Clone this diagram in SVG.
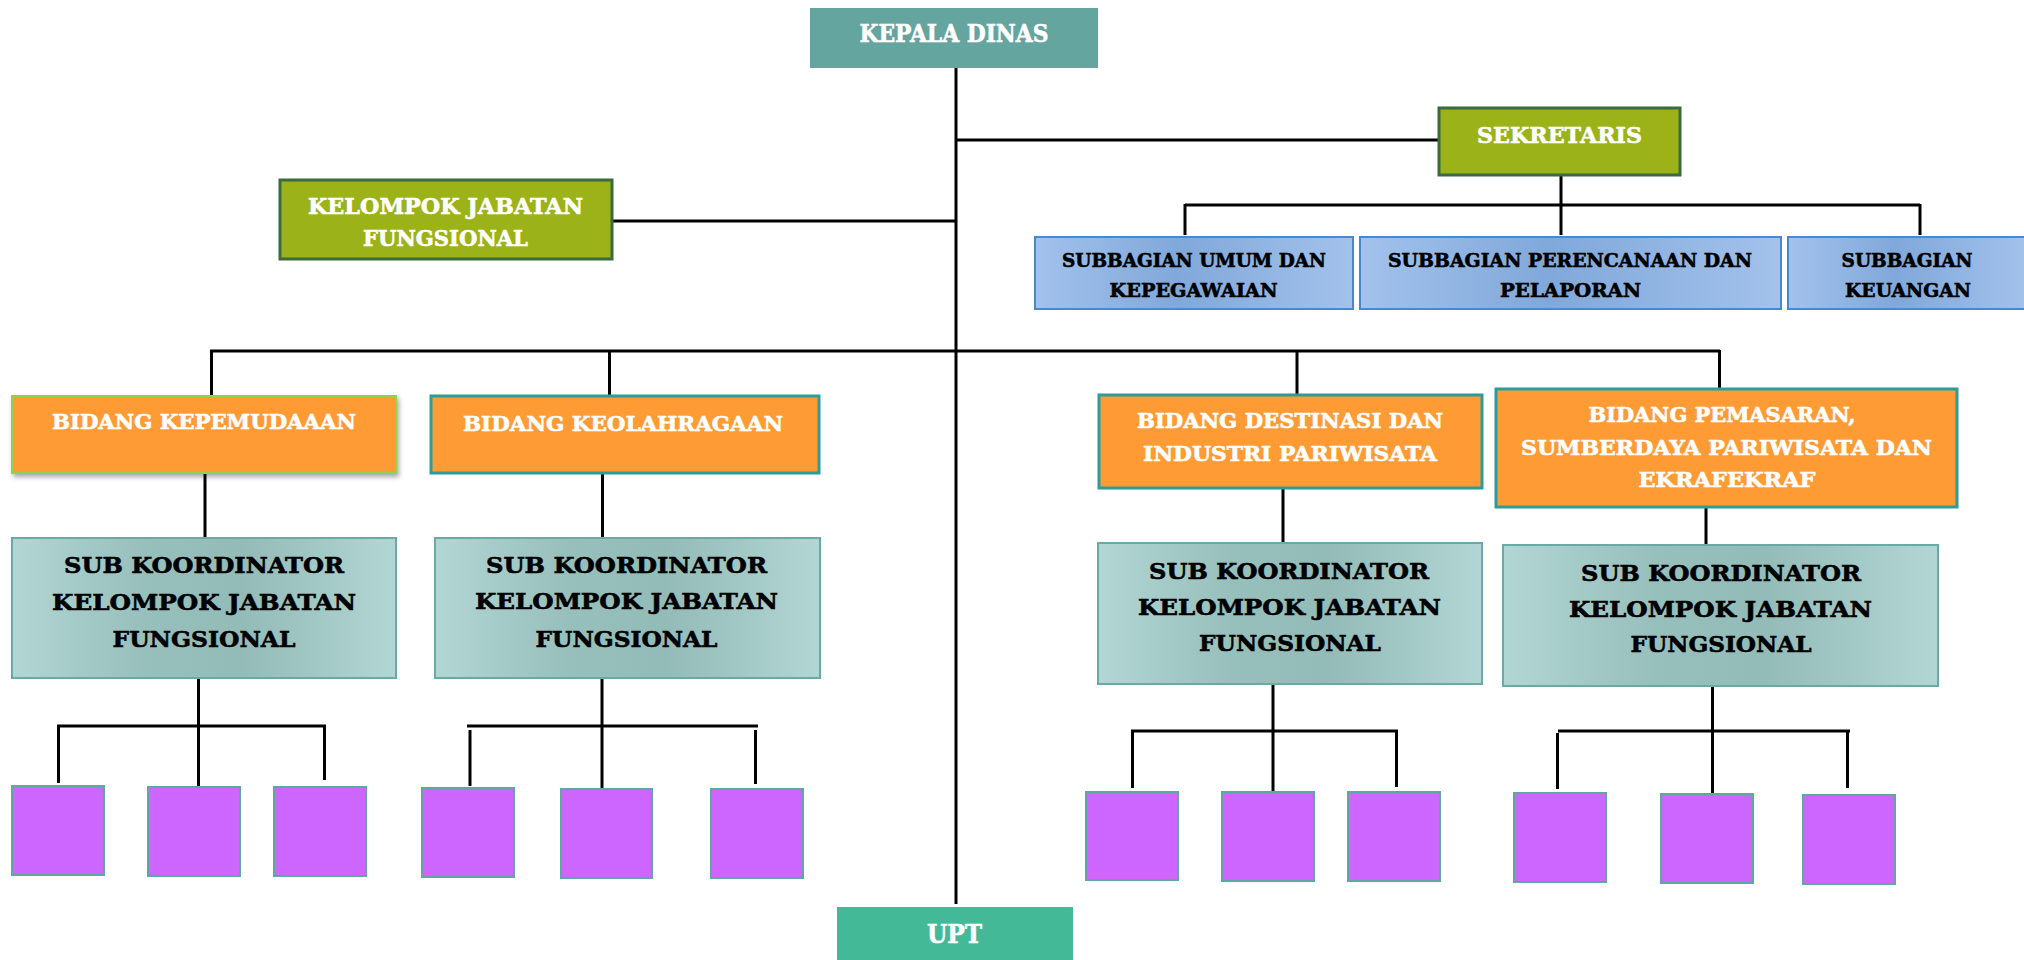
<svg xmlns="http://www.w3.org/2000/svg" width="2024" height="960" viewBox="0 0 2024 960">
  <defs>
    <linearGradient id="gSub" x1="0" y1="0" x2="1" y2="0">
      <stop offset="0" stop-color="#B2D6D4"/>
      <stop offset="0.35" stop-color="#97BFBC"/>
      <stop offset="0.6" stop-color="#93BBB8"/>
      <stop offset="1" stop-color="#B2D6D4"/>
    </linearGradient>
    <linearGradient id="gBlue" x1="0" y1="0" x2="1" y2="0">
      <stop offset="0" stop-color="#A3C2EC"/>
      <stop offset="0.45" stop-color="#80A8DA"/>
      <stop offset="1" stop-color="#A3C2EC"/>
    </linearGradient>
    <filter id="shadow" x="-5%" y="-10%" width="115%" height="130%">
      <feDropShadow dx="2" dy="3" stdDeviation="2.5" flood-color="#000" flood-opacity="0.35"/>
    </filter>
  </defs>
  <style>
    text { font-family: "DejaVu Serif", "Liberation Serif", serif; font-weight: bold; text-anchor: middle; stroke-width: 0.6; }
    .w { fill: #FFFFFF; stroke: #FFFFFF; }
    .k { fill: #000000; stroke: #000000; }
    .conn line { stroke: #000; stroke-width: 3; stroke-linecap: butt; }
    .green { fill: #9BB218; stroke: #3B6B3C; stroke-width: 3; }
    .orange { fill: #FF9B35; stroke: #2A9C9A; stroke-width: 3; }
    .sub { fill: url(#gSub); stroke: #6AA9A4; stroke-width: 2; }
    .blue { fill: url(#gBlue); stroke: #4A88CC; stroke-width: 2; }
    .purple { fill: #CC66FF; stroke: #5FA8A0; stroke-width: 2; }
  </style>
  <rect width="2024" height="960" fill="#FFFFFF"/>

  <g id="connectors" class="conn">
    <!-- trunk -->
    <line x1="956" y1="61" x2="956" y2="904"/>
    <line x1="956" y1="140" x2="1439" y2="140"/>
    <line x1="612" y1="221" x2="956" y2="221"/>
    <!-- sekretaris to subbagian -->
    <line x1="1561" y1="175" x2="1561" y2="235"/>
    <line x1="1185" y1="205" x2="1920" y2="205"/>
    <line x1="1185" y1="204" x2="1185" y2="235"/>
    <line x1="1920" y1="204" x2="1920" y2="235"/>
    <!-- bidang bar -->
    <line x1="210" y1="351" x2="1720" y2="351"/>
    <line x1="211.5" y1="350" x2="211.5" y2="396"/>
    <line x1="609.5" y1="350" x2="609.5" y2="395"/>
    <line x1="1297" y1="350" x2="1297" y2="394"/>
    <line x1="1719.5" y1="350" x2="1719.5" y2="402"/>
    <!-- bidang to sub koordinator -->
    <line x1="205" y1="473" x2="205" y2="538"/>
    <line x1="602.5" y1="473" x2="602.5" y2="538"/>
    <line x1="1283" y1="488" x2="1283" y2="550"/>
    <line x1="1706" y1="507" x2="1706" y2="544"/>
    <!-- group 1 -->
    <line x1="198.5" y1="678" x2="198.5" y2="792"/>
    <line x1="57" y1="726" x2="326" y2="726"/>
    <line x1="58.5" y1="725" x2="58.5" y2="783"/>
    <line x1="324.5" y1="725" x2="324.5" y2="780"/>
    <!-- group 2 -->
    <line x1="602" y1="678" x2="602" y2="792"/>
    <line x1="467" y1="726" x2="758" y2="726"/>
    <line x1="470" y1="730" x2="470" y2="786"/>
    <line x1="755.5" y1="730" x2="755.5" y2="784"/>
    <!-- group 3 -->
    <line x1="1273" y1="684" x2="1273" y2="797"/>
    <line x1="1131" y1="731" x2="1398" y2="731"/>
    <line x1="1132.5" y1="730" x2="1132.5" y2="788"/>
    <line x1="1396.5" y1="730" x2="1396.5" y2="787"/>
    <!-- group 4 -->
    <line x1="1712.5" y1="686" x2="1712.5" y2="797"/>
    <line x1="1558" y1="731" x2="1850" y2="731"/>
    <line x1="1557.5" y1="733" x2="1557.5" y2="789"/>
    <line x1="1847.5" y1="730" x2="1847.5" y2="788"/>
  </g>

  <g id="kepala-dinas">
    <rect x="810" y="8" width="288" height="60" fill="#64A5A0"/>
    <text class="w" x="954" y="42" font-size="24" textLength="189" lengthAdjust="spacingAndGlyphs">KEPALA DINAS</text>
  </g>

  <g id="sekretaris">
    <rect class="green" x="1439" y="108" width="241" height="67"/>
    <text class="w" x="1559.5" y="143" font-size="23" textLength="165" lengthAdjust="spacingAndGlyphs">SEKRETARIS</text>
  </g>

  <g id="kelompok-jabatan-fungsional">
    <rect class="green" x="280" y="180" width="332" height="79"/>
    <text class="w" x="445.5" y="214" font-size="22" textLength="275" lengthAdjust="spacingAndGlyphs">KELOMPOK JABATAN</text>
    <text class="w" x="445.5" y="246" font-size="22" textLength="165" lengthAdjust="spacingAndGlyphs">FUNGSIONAL</text>
  </g>

  <g id="subbagian-umum">
    <rect class="blue" x="1035" y="237" width="318" height="72"/>
    <text class="k" x="1194" y="267" font-size="19" textLength="264" lengthAdjust="spacingAndGlyphs">SUBBAGIAN UMUM DAN</text>
    <text class="k" x="1193.5" y="297" font-size="19" textLength="168" lengthAdjust="spacingAndGlyphs">KEPEGAWAIAN</text>
  </g>

  <g id="subbagian-perencanaan">
    <rect class="blue" x="1360" y="237" width="421" height="72"/>
    <text class="k" x="1570" y="267" font-size="19" textLength="364" lengthAdjust="spacingAndGlyphs">SUBBAGIAN PERENCANAAN DAN</text>
    <text class="k" x="1570.5" y="297" font-size="19" textLength="141" lengthAdjust="spacingAndGlyphs">PELAPORAN</text>
  </g>

  <g id="subbagian-keuangan">
    <rect class="blue" x="1788" y="237" width="240" height="72"/>
    <text class="k" x="1907" y="267" font-size="19" textLength="131" lengthAdjust="spacingAndGlyphs">SUBBAGIAN</text>
    <text class="k" x="1908" y="297" font-size="19" textLength="126" lengthAdjust="spacingAndGlyphs">KEUANGAN</text>
  </g>

  <g id="bidang-kepemudaaan">
    <rect x="12" y="396" width="384" height="77" fill="#FF9B35" stroke="#92D050" stroke-width="2" filter="url(#shadow)"/>
    <text class="w" x="204" y="429" font-size="20" textLength="304" lengthAdjust="spacingAndGlyphs">BIDANG KEPEMUDAAAN</text>
  </g>

  <g id="bidang-keolahragaan">
    <rect class="orange" x="431" y="396" width="388" height="77"/>
    <text class="w" x="623" y="431" font-size="20" textLength="320" lengthAdjust="spacingAndGlyphs">BIDANG KEOLAHRAGAAN</text>
  </g>

  <g id="bidang-destinasi">
    <rect class="orange" x="1099" y="395" width="383" height="93"/>
    <text class="w" x="1290" y="428" font-size="20" textLength="306" lengthAdjust="spacingAndGlyphs">BIDANG DESTINASI DAN</text>
    <text class="w" x="1290" y="461" font-size="20" textLength="294" lengthAdjust="spacingAndGlyphs">INDUSTRI PARIWISATA</text>
  </g>

  <g id="bidang-pemasaran">
    <rect class="orange" x="1496" y="389" width="461" height="118"/>
    <text class="w" x="1722" y="422" font-size="20" textLength="267" lengthAdjust="spacingAndGlyphs">BIDANG PEMASARAN,</text>
    <text class="w" x="1726.5" y="455" font-size="20" textLength="411" lengthAdjust="spacingAndGlyphs">SUMBERDAYA PARIWISATA DAN</text>
    <text class="w" x="1727" y="487" font-size="20" textLength="177" lengthAdjust="spacingAndGlyphs">EKRAFEKRAF</text>
  </g>

  <g id="sub-koordinator-1">
    <rect class="sub" x="12" y="538" width="384" height="140"/>
    <text class="k" x="204" y="573" font-size="23" textLength="280" lengthAdjust="spacingAndGlyphs">SUB KOORDINATOR</text>
    <text class="k" x="204" y="610" font-size="23" textLength="304" lengthAdjust="spacingAndGlyphs">KELOMPOK JABATAN</text>
    <text class="k" x="204" y="647" font-size="23" textLength="183" lengthAdjust="spacingAndGlyphs">FUNGSIONAL</text>
  </g>

  <g id="sub-koordinator-2">
    <rect class="sub" x="435" y="538" width="385" height="140"/>
    <text class="k" x="626.5" y="573" font-size="23" textLength="281" lengthAdjust="spacingAndGlyphs">SUB KOORDINATOR</text>
    <text class="k" x="626.5" y="609" font-size="23" textLength="303" lengthAdjust="spacingAndGlyphs">KELOMPOK JABATAN</text>
    <text class="k" x="626.5" y="647" font-size="23" textLength="182" lengthAdjust="spacingAndGlyphs">FUNGSIONAL</text>
  </g>

  <g id="sub-koordinator-3">
    <rect class="sub" x="1098" y="543" width="384" height="141"/>
    <text class="k" x="1289" y="579" font-size="23" textLength="280" lengthAdjust="spacingAndGlyphs">SUB KOORDINATOR</text>
    <text class="k" x="1289.5" y="615" font-size="23" textLength="303" lengthAdjust="spacingAndGlyphs">KELOMPOK JABATAN</text>
    <text class="k" x="1290" y="651" font-size="23" textLength="182" lengthAdjust="spacingAndGlyphs">FUNGSIONAL</text>
  </g>

  <g id="sub-koordinator-4">
    <rect class="sub" x="1503" y="545" width="435" height="141"/>
    <text class="k" x="1721" y="581" font-size="23" textLength="280" lengthAdjust="spacingAndGlyphs">SUB KOORDINATOR</text>
    <text class="k" x="1720.5" y="617" font-size="23" textLength="303" lengthAdjust="spacingAndGlyphs">KELOMPOK JABATAN</text>
    <text class="k" x="1721" y="652" font-size="23" textLength="181" lengthAdjust="spacingAndGlyphs">FUNGSIONAL</text>
  </g>

  <g id="jf-1-1"><rect class="purple" x="12" y="786" width="92" height="89"/></g>
  <g id="jf-1-2"><rect class="purple" x="148" y="787" width="92" height="89"/></g>
  <g id="jf-1-3"><rect class="purple" x="274" y="787" width="92" height="89"/></g>
  <g id="jf-2-1"><rect class="purple" x="422" y="788" width="92" height="89"/></g>
  <g id="jf-2-2"><rect class="purple" x="561" y="789" width="91" height="89"/></g>
  <g id="jf-2-3"><rect class="purple" x="711" y="789" width="92" height="89"/></g>
  <g id="jf-3-1"><rect class="purple" x="1086" y="792" width="92" height="88"/></g>
  <g id="jf-3-2"><rect class="purple" x="1222" y="792" width="92" height="89"/></g>
  <g id="jf-3-3"><rect class="purple" x="1348" y="792" width="92" height="89"/></g>
  <g id="jf-4-1"><rect class="purple" x="1514" y="793" width="92" height="89"/></g>
  <g id="jf-4-2"><rect class="purple" x="1661" y="794" width="92" height="89"/></g>
  <g id="jf-4-3"><rect class="purple" x="1803" y="795" width="92" height="89"/></g>

  <g id="upt">
    <rect x="837" y="907" width="236" height="53" fill="#43B997"/>
    <text class="w" x="954.5" y="943" font-size="26" textLength="55" lengthAdjust="spacingAndGlyphs">UPT</text>
  </g>
</svg>
